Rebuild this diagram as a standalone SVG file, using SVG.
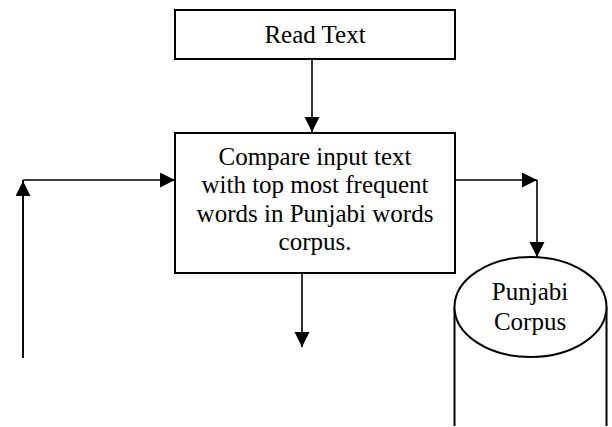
<svg xmlns="http://www.w3.org/2000/svg" width="612" height="427" viewBox="0 0 612 427">
<style>
.box{fill:#fff;stroke:#000;stroke-width:2}
.ln{fill:none;stroke:#000;stroke-width:1.6}
.t{font-family:"Liberation Serif","Times New Roman",serif;font-size:25px;fill:#000;text-anchor:middle}
</style>
<defs>
<marker id="ah" markerUnits="userSpaceOnUse" markerWidth="16" markerHeight="16" viewBox="0 0 16 16" refX="15" refY="7.5" orient="auto">
<path d="M0,0 L15,7.5 L0,15 Z" fill="#000"/>
</marker>
</defs>
<rect width="612" height="427" fill="#fff"/>
<g id="connectors">
<path class="ln" d="M312,59 V132" marker-end="url(#ah)"/>
<path class="ln" d="M302,273 V347" marker-end="url(#ah)"/>
<path class="ln" d="M23,358 V180"/>
<path class="ln" d="M23,358 V181" marker-end="url(#ah)"/>
<path class="ln" d="M23,180 H175" marker-end="url(#ah)"/>
<path class="ln" d="M455,180 H537" marker-end="url(#ah)"/>
<path class="ln" d="M537,180 V257" marker-end="url(#ah)"/>
</g>
<g id="read-text">
<rect class="box" x="175" y="10" width="280" height="49"/>
<text class="t" x="315" y="43">Read Text</text>
</g>
<g id="compare">
<rect class="box" x="175" y="133" width="280" height="140"/>
<text class="t" x="315" y="165">Compare input text</text>
<text class="t" x="315" y="193">with top most frequent</text>
<text class="t" x="315" y="222">words in Punjabi words</text>
<text class="t" x="315" y="250">corpus.</text>
</g>
<g id="punjabi-corpus">
<path class="ln" d="M454.5,307 V426 M606.5,307 V426" style="stroke-width:2"/>
<ellipse class="box" cx="530.5" cy="307" rx="76" ry="50"/>
<text class="t" x="530" y="300">Punjabi</text>
<text class="t" x="530" y="330">Corpus</text>
</g>
</svg>
